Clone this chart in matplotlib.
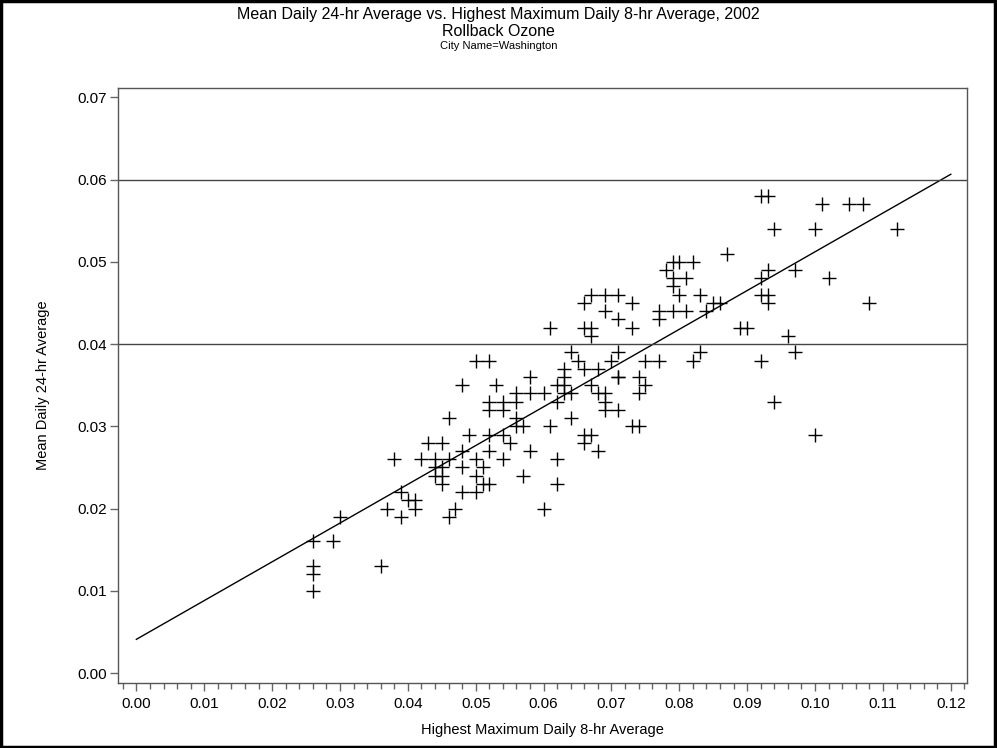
import numpy as np
import matplotlib.pyplot as plt
from matplotlib.patches import Rectangle
from matplotlib.ticker import MultipleLocator, FormatStrFormatter

plt.rcParams['font.family'] = ['Liberation Sans', 'DejaVu Sans']

# highest max daily 8-hr average (x) vs mean daily 24-hr average (y)
x_vals = [
    0.026, 0.026, 0.026, 0.026, 0.029, 0.030, 0.036, 0.037, 0.038, 0.039,
    0.039, 0.040, 0.041, 0.041, 0.043, 0.045, 0.042, 0.044, 0.044, 0.044,
    0.045, 0.045, 0.045, 0.046, 0.046, 0.046, 0.047, 0.048, 0.048, 0.048,
    0.048, 0.049,
    0.050, 0.052, 0.050, 0.050, 0.050, 0.051, 0.051, 0.052, 0.052, 0.052,
    0.052, 0.052, 0.053, 0.054, 0.054, 0.054, 0.054, 0.055, 0.056, 0.056,
    0.056, 0.056, 0.057, 0.057, 0.058, 0.058, 0.058, 0.060, 0.060,
    0.061, 0.061, 0.062, 0.063, 0.062, 0.062, 0.062, 0.063, 0.063, 0.063,
    0.064, 0.064, 0.064, 0.065, 0.066, 0.066, 0.066, 0.066, 0.066, 0.067,
    0.067, 0.067, 0.067, 0.067, 0.068, 0.068, 0.068, 0.069, 0.069, 0.069,
    0.069, 0.069, 0.070, 0.071, 0.071, 0.071, 0.071, 0.071, 0.071, 0.073,
    0.073, 0.073, 0.074, 0.074, 0.074, 0.075, 0.075,
    0.077, 0.077, 0.077, 0.078, 0.079, 0.079, 0.079, 0.079, 0.080, 0.080,
    0.081, 0.081, 0.082, 0.082, 0.083, 0.083, 0.084, 0.085, 0.086, 0.087,
    0.089, 0.090, 0.092, 0.093, 0.092, 0.092, 0.093, 0.093, 0.093, 0.092,
    0.094, 0.094, 0.096, 0.097, 0.097, 0.100, 0.100, 0.101, 0.102, 0.105,
    0.107, 0.108, 0.112,
]
y_vals = [
    0.016, 0.013, 0.012, 0.010, 0.016, 0.019, 0.013, 0.020, 0.026, 0.022,
    0.019, 0.021, 0.021, 0.020, 0.028, 0.028, 0.026, 0.026, 0.025, 0.024,
    0.025, 0.024, 0.023, 0.026, 0.031, 0.019, 0.020, 0.035, 0.027, 0.025,
    0.022, 0.029,
    0.038, 0.038, 0.026, 0.024, 0.022, 0.025, 0.023, 0.023, 0.033, 0.032,
    0.029, 0.027, 0.035, 0.033, 0.032, 0.029, 0.026, 0.028, 0.034, 0.033,
    0.031, 0.030, 0.030, 0.024, 0.036, 0.034, 0.027, 0.034, 0.020,
    0.042, 0.030, 0.035, 0.034, 0.033, 0.026, 0.023, 0.037, 0.036, 0.035,
    0.039, 0.034, 0.031, 0.038, 0.045, 0.042, 0.037, 0.029, 0.028, 0.046,
    0.042, 0.041, 0.035, 0.029, 0.037, 0.034, 0.027, 0.046, 0.044, 0.034,
    0.033, 0.032, 0.038, 0.046, 0.043, 0.039, 0.036, 0.036, 0.032, 0.045,
    0.042, 0.030, 0.036, 0.034, 0.030, 0.038, 0.035,
    0.044, 0.043, 0.038, 0.049, 0.050, 0.048, 0.047, 0.044, 0.050, 0.046,
    0.048, 0.044, 0.050, 0.038, 0.046, 0.039, 0.044, 0.045, 0.045, 0.051,
    0.042, 0.042, 0.058, 0.058, 0.048, 0.046, 0.049, 0.046, 0.045, 0.038,
    0.054, 0.033, 0.041, 0.049, 0.039, 0.054, 0.029, 0.057, 0.048, 0.057,
    0.057, 0.045, 0.054,
]

# fitted line as drawn in the original
fit_x = [0.0, 0.12]
fit_intercept = 0.0041
fit_slope = 0.4712

ref_levels = [0.04, 0.06]

fig = plt.figure(figsize=(9.97, 7.48), dpi=100)
ax = fig.add_axes([0.1184, 0.087, 0.8516, 0.795])

ax.plot(x_vals, y_vals, linestyle='none', marker='+', markersize=9.5,
        markeredgewidth=1.0, color='black')
fx = np.array(fit_x)
ax.plot(fx, fit_intercept + fit_slope * fx, color='black', lw=1.0)
for lvl in ref_levels:
    ax.axhline(lvl, color='#444444', lw=1.0)

ax.set_xlim(-0.0027, 0.1224)
ax.set_ylim(-0.0012, 0.0711)
ax.xaxis.set_major_locator(MultipleLocator(0.01))
ax.xaxis.set_minor_locator(MultipleLocator(0.002))
ax.yaxis.set_major_locator(MultipleLocator(0.01))
ax.xaxis.set_major_formatter(FormatStrFormatter('%.2f'))
ax.yaxis.set_major_formatter(FormatStrFormatter('%.2f'))
ax.tick_params(which='major', direction='out', length=6, width=1,
               color='#666666', labelsize=11, pad=4)
ax.tick_params(which='minor', direction='out', length=4, width=1,
               color='#666666')
ax.tick_params(axis='y', pad=2)
for s in ax.spines.values():
    s.set_color('#555555')
    s.set_linewidth(1.0)

ax.set_xlabel('Highest Maximum Daily 8-hr Average', fontsize=10.5, labelpad=9)
ax.set_ylabel('Mean Daily 24-hr Average', fontsize=10.5, labelpad=20)

fig.text(0.5, 1 - 15 / 748, 'Mean Daily 24-hr Average vs. Highest Maximum Daily 8-hr Average, 2002',
         ha='center', va='center', fontsize=11.5)
fig.text(0.5, 1 - 31 / 748, 'Rollback Ozone', ha='center', va='center',
         fontsize=11.5)
fig.text(0.5, 1 - 46 / 748, 'City Name=Washington', ha='center', va='center',
         fontsize=8)

fig.patches.append(Rectangle((0.0015, 0.002), 0.996, 0.996, transform=fig.transFigure,
                             fill=False, edgecolor='black', lw=2.5))

fig.savefig('out.png', dpi=100)
